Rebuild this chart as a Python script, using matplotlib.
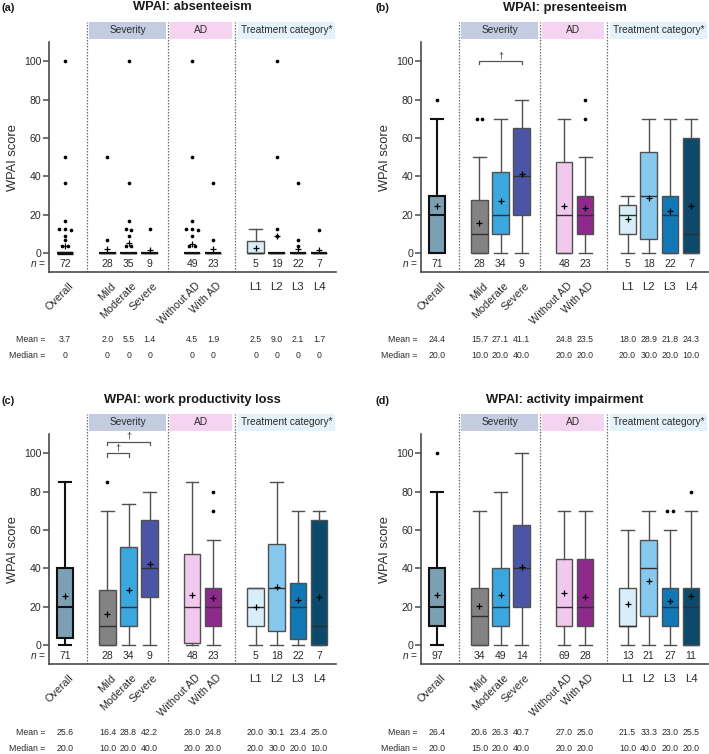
import matplotlib
matplotlib.use("Agg")
import matplotlib.pyplot as plt
from matplotlib.patches import Rectangle

plt.rcParams['font.family'] = ['Liberation Sans', 'DejaVu Sans']
plt.rcParams['mathtext.fontset'] = 'custom'
plt.rcParams['mathtext.it'] = 'Liberation Sans:italic'
plt.rcParams['mathtext.rm'] = 'Liberation Sans'

# ========================= DATA =========================
CATEGORIES = ["Overall", "Mild", "Moderate", "Severe", "Without AD", "With AD",
              "L1", "L2", "L3", "L4"]
POSITIONS = [0, 2, 3, 4, 6, 7, 9, 10, 11, 12]
BOX_COLORS = ["#7d9fb3", "#838383", "#3aa7df", "#4a55a5", "#f2c9ee", "#8e2a8c",
              "#d8eef9", "#87c9ee", "#1177b5", "#0b4a6b"]
GROUPS = ["Severity", "AD", "Treatment category*"]
GROUP_COLORS = ["#c3cce0", "#f5d4f1", "#e4f2fb"]
GROUP_SPANS = [(1.13, 4.78), (4.95, 7.9), (8.17, 12.75)]
DIVIDERS = [1.05, 4.87, 8.05]

# (a) absenteeism
ABS_TITLE = "WPAI: absenteeism"
ABS_N = [72, 28, 35, 9, 49, 23, 5, 19, 22, 7]
ABS_Q1 = [0, 0, 0, 0, 0, 0, 0, 0, 0, 0]
ABS_MED = [0, 0, 0, 0, 0, 0, 0, 0, 0, 0]
ABS_Q3 = [0, 0, 0, 0, 0, 0, 6.25, 0, 0, 0]
ABS_LO = [0, 0, 0, 0, 0, 0, 0, 0, 0, 0]
ABS_HI = [0, 0, 0, 0, 0, 0, 12.5, 0, 0, 0]
ABS_FLIERS = [[100, 50, 36.4, 16.7, 12.5, 12.5, 11.8, 8.7, 6.7, 3.5, 3.5],
              [50, 6.7],
              [100, 36.4, 16.7, 12.5, 11.8, 8.7, 3.5, 3.5],
              [12.5],
              [100, 50, 16.7, 12.5, 12.5, 11.8, 8.7, 3.5, 3.5],
              [36.4, 6.7],
              [],
              [100, 50, 12.5, 8.7],
              [36.4, 6.7, 3.5],
              [11.8]]
ABS_MEAN = [3.7, 2.0, 5.5, 1.4, 4.5, 1.9, 2.5, 9.0, 2.1, 1.7]
ABS_MEDIAN_TXT = ["0", "0", "0", "0", "0", "0", "0", "0", "0", "0"]
ABS_BRACKETS = []

# (b) presenteeism
PRE_TITLE = "WPAI: presenteeism"
PRE_N = [71, 28, 34, 9, 48, 23, 5, 18, 22, 7]
PRE_Q1 = [0, 0, 10, 20, 0, 10, 10, 7.5, 0, 0]
PRE_MED = [20, 10, 20, 40, 20, 20, 20, 30, 20, 10]
PRE_Q3 = [30, 27.5, 42.5, 65, 47.5, 30, 25, 52.5, 30, 60]
PRE_LO = [0, 0, 0, 0, 0, 0, 0, 0, 0, 0]
PRE_HI = [70, 50, 70, 80, 70, 50, 30, 70, 70, 70]
PRE_FLIERS = [[80], [70, 70], [], [], [], [80, 70], [], [], [], []]
PRE_MEAN = [24.4, 15.7, 27.1, 41.1, 24.8, 23.5, 18.0, 28.9, 21.8, 24.3]
PRE_MEDIAN_TXT = ["20.0", "10.0", "20.0", "40.0", "20.0", "20.0", "20.0", "30.0", "20.0", "10.0"]
PRE_BRACKETS = [(1, 3, 100)]   # (índice categoria, índice categoria, y)

# (c) work productivity loss
WPL_TITLE = "WPAI: work productivity loss"
WPL_N = [71, 28, 34, 9, 48, 23, 5, 18, 22, 7]
WPL_Q1 = [4, 0, 10, 25, 1.25, 10, 10, 7.5, 3.1, 0]
WPL_MED = [20, 10, 20, 40, 20, 20, 20, 30, 20, 10]
WPL_Q3 = [40, 28.75, 51.25, 65, 47.5, 30, 30, 52.5, 32.5, 65]
WPL_LO = [0, 0, 0, 0, 0, 0, 0, 0, 0, 0]
WPL_HI = [85, 70, 73.75, 80, 85, 55, 30, 85, 70, 70]
WPL_FLIERS = [[], [85], [], [], [], [80, 70], [], [], [], []]
WPL_MEAN = [25.6, 16.4, 28.8, 42.2, 26.0, 24.8, 20.0, 30.1, 23.4, 25.0]
WPL_MEDIAN_TXT = ["20.0", "10.0", "20.0", "40.0", "20.0", "20.0", "20.0", "30.0", "20.0", "10.0"]
WPL_BRACKETS = [(1, 2, 100), (1, 3, 106)]

# (d) activity impairment
ACT_TITLE = "WPAI: activity impairment"
ACT_N = [97, 34, 49, 14, 69, 28, 13, 21, 27, 11]
ACT_Q1 = [10, 0, 10, 20, 10, 10, 10, 15, 10, 0]
ACT_MED = [20, 15, 20, 40, 20, 20, 10, 40, 20, 20]
ACT_Q3 = [40, 30, 40, 62.5, 45, 45, 30, 55, 30, 30]
ACT_LO = [0, 0, 0, 0, 0, 0, 0, 0, 0, 0]
ACT_HI = [80, 70, 80, 100, 70, 70, 60, 70, 60, 70]
ACT_FLIERS = [[100], [], [], [], [], [], [], [], [70, 70], [80]]
ACT_MEAN = [26.4, 20.6, 26.3, 40.7, 27.0, 25.0, 21.5, 33.3, 23.0, 25.5]
ACT_MEDIAN_TXT = ["20.0", "15.0", "20.0", "40.0", "20.0", "20.0", "10.0", "40.0", "20.0", "20.0"]
ACT_BRACKETS = []

PANELS = [
    ("(a)", ABS_TITLE, ABS_N, ABS_Q1, ABS_MED, ABS_Q3, ABS_LO, ABS_HI, ABS_FLIERS,
     ABS_MEAN, ABS_MEDIAN_TXT, ABS_BRACKETS),
    ("(b)", PRE_TITLE, PRE_N, PRE_Q1, PRE_MED, PRE_Q3, PRE_LO, PRE_HI, PRE_FLIERS,
     PRE_MEAN, PRE_MEDIAN_TXT, PRE_BRACKETS),
    ("(c)", WPL_TITLE, WPL_N, WPL_Q1, WPL_MED, WPL_Q3, WPL_LO, WPL_HI, WPL_FLIERS,
     WPL_MEAN, WPL_MEDIAN_TXT, WPL_BRACKETS),
    ("(d)", ACT_TITLE, ACT_N, ACT_Q1, ACT_MED, ACT_Q3, ACT_LO, ACT_HI, ACT_FLIERS,
     ACT_MEAN, ACT_MEDIAN_TXT, ACT_BRACKETS),
]

# ========================= LAYOUT =========================
W, H = 709, 754
AX_W, AX_H = 287, 230.3
AX_LEFT = [49, 421, 49, 421]
AX_BOTTOM = [272.3, 272.3, 664.4, 664.4]   # px a partir do topo
TITLE_Y = [7.5, 7.5, 400, 400]
LETTER_X = [1, 376, 1, 376]
YMIN, YMAX = -10, 110
XMIN, XMAX = -0.76, 12.8
PX_PER_Y = AX_H / (YMAX - YMIN)

EDGE = "#505050"
AXIS_COL = "#4a4a4a"
TXT = "#2b2b2b"


def _spread(vals, tol=1.2, step=0.27):
    """Espalha horizontalmente pontos com valores quase iguais."""
    vals = sorted(vals, reverse=True)
    out = []
    i = 0
    while i < len(vals):
        grp = [vals[i]]
        j = i + 1
        while j < len(vals) and grp[0] - vals[j] < tol:
            grp.append(vals[j])
            j += 1
        k = len(grp)
        for m, v in enumerate(grp):
            out.append(((m - (k - 1) / 2) * step, v))
        i = j
    return out


def _py(px):
    """px abaixo da linha do eixo -> coordenada y em dados."""
    return YMIN - px / PX_PER_Y


fig = plt.figure(figsize=(W / 100, H / 100), dpi=100)

for k, (letter, title, n, q1, med, q3, lo, hi, fliers, mean, med_txt, brackets) in enumerate(PANELS):
    left = AX_LEFT[k] / W
    bottom = 1 - AX_BOTTOM[k] / H
    ax = fig.add_axes([left, bottom, AX_W / W, AX_H / H])
    ax.set_xlim(XMIN, XMAX)
    ax.set_ylim(YMIN, YMAX)

    for i, pos in enumerate(POSITIONS):
        stats = [dict(q1=q1[i], med=med[i], q3=q3[i], whislo=lo[i], whishi=hi[i],
                      mean=mean[i], fliers=[])]
        overall = (i == 0)
        ec = "#111111" if overall else EDGE
        lw = 1.5 if overall else 1.0
        zero_box = (q3[i] == 0 and q1[i] == 0)
        mcol = "#111111" if (overall or zero_box) else "#303030"
        mlw = (2.4 if overall else 1.6) if zero_box else (1.5 if overall else 1.0)
        ax.bxp(stats, positions=[pos], widths=0.78, capwidths=[0.6],
               patch_artist=True, showmeans=True, showfliers=False,
               boxprops=dict(facecolor=BOX_COLORS[i], edgecolor=ec, linewidth=lw),
               whiskerprops=dict(color=ec, linewidth=lw),
               capprops=dict(color=ec, linewidth=lw),
               medianprops=dict(color=mcol, linewidth=mlw),
               meanprops=dict(marker="+", markeredgecolor="black", markersize=4,
                              markeredgewidth=0.9))
        pts = _spread(fliers[i])
        if pts:
            ax.scatter([pos + dx for dx, _ in pts], [v for _, v in pts],
                       s=7, color="black", zorder=4, linewidths=0)

    # colchetes de significância
    for a, b, yb in brackets:
        xa, xb = POSITIONS[a], POSITIONS[b]
        ax.plot([xa, xa, xb, xb], [yb - 1.7, yb, yb, yb - 1.7], color="#555555",
                lw=0.9, clip_on=False, zorder=3)
        ax.text((xa + xb) / 2, yb + 0.6, "\u2020", ha="center", va="bottom",
                fontsize=6.5, color=TXT)

    # divisórias e cabeçalhos
    for d in DIVIDERS:
        ax.plot([d, d], [YMIN, 120.6], color="#6a6a6a", lw=0.9,
                linestyle=(0, (1.2, 1.2)), clip_on=False, zorder=1)
    for g, (x0, x1) in enumerate(GROUP_SPANS):
        ax.add_patch(Rectangle((x0, 111.6), x1 - x0, 9.0, facecolor=GROUP_COLORS[g],
                               edgecolor="none", clip_on=False))
        ax.text((x0 + x1) / 2, 116.1, GROUPS[g], ha="center", va="center",
                fontsize=7.3, color=TXT, clip_on=False)

    # linha n
    ax.text(-0.93, -5.5, r"$n$ =", ha="right", va="center", fontsize=7.3, color=TXT)
    for i, pos in enumerate(POSITIONS):
        ax.text(pos, -5.5, str(n[i]), ha="center", va="center", fontsize=7.5, color=TXT)

    # rótulos das categorias
    for i, pos in enumerate(POSITIONS):
        if CATEGORIES[i].startswith("L"):
            ax.text(pos, _py(14.4), CATEGORIES[i], ha="center", va="center",
                    fontsize=8.2, color=TXT, clip_on=False)
        else:
            ax.text(pos + 0.14, _py(8.5), CATEGORIES[i], ha="right", va="top",
                    rotation=45, rotation_mode="anchor", fontsize=7.8, color=TXT,
                    clip_on=False)

    # linhas de média / mediana
    ax.text(-0.93, _py(67.7), "Mean =", ha="right", va="center", fontsize=6.3, color=TXT)
    ax.text(-0.93, _py(83.7), "Median =", ha="right", va="center", fontsize=6.3, color=TXT)
    for i, pos in enumerate(POSITIONS):
        ax.text(pos, _py(67.7), "{:.1f}".format(mean[i]), ha="center", va="center",
                fontsize=6.3, color=TXT)
        ax.text(pos, _py(83.7), med_txt[i], ha="center", va="center",
                fontsize=6.3, color=TXT)

    # estilo dos eixos
    for s in ["top", "right"]:
        ax.spines[s].set_visible(False)
    for s in ["left", "bottom"]:
        ax.spines[s].set_color(AXIS_COL)
        ax.spines[s].set_linewidth(1.2)
    ax.set_xticks([])
    ax.set_yticks([0, 20, 40, 60, 80, 100])
    ax.tick_params(axis="y", length=4, width=1.1, color=AXIS_COL, labelsize=7.6,
                   pad=1.5, labelcolor=TXT)
    ax.set_ylabel("WPAI score", fontsize=9.3, color=TXT)
    ax.yaxis.set_label_coords(-0.106, 0.5)

    # títulos
    cx = (AX_LEFT[k] + AX_W / 2) / W
    fig.text(cx, 1 - TITLE_Y[k] / H, title, ha="center", va="center",
             fontsize=9.3, fontweight="bold", color="#1a1a1a")
    fig.text(LETTER_X[k] / W, 1 - (TITLE_Y[k] + 0.5) / H, letter, ha="left",
             va="center", fontsize=7.8, fontweight="bold", color="#1a1a1a")

fig.savefig("out.png", dpi=100)
